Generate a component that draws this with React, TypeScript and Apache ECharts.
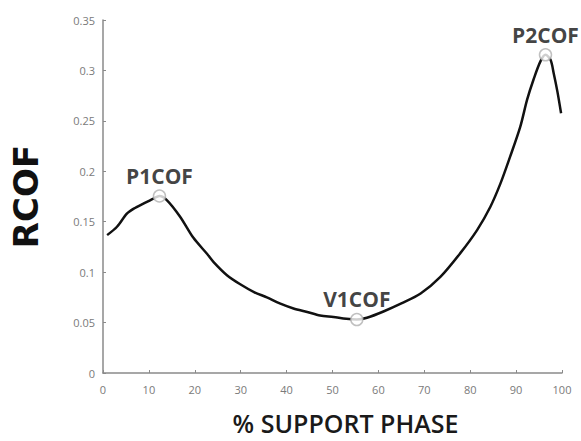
import React, { useEffect, useRef } from "react";
import * as echarts from "echarts";

const phaseX = [0.9, 3.05, 5.2, 6.7, 8.8, 11, 12.3, 13.9, 16.8, 19.7, 22.7, 24.1, 27, 29.9, 33, 35.7, 38.5, 41.5, 44.5, 47.3, 50.2, 53, 55.3, 57.5, 61.1, 65, 69.2, 73.5, 77.8, 81.5, 84.4, 86.6, 88.7, 90.9, 92.4, 93.8, 95.3, 96.4, 97.5, 98.2, 99, 99.8];
const rcofY = [0.1367, 0.145, 0.158, 0.163, 0.168, 0.173, 0.1755, 0.1715, 0.155, 0.134, 0.118, 0.110, 0.097, 0.088, 0.080, 0.075, 0.069, 0.064, 0.0605, 0.057, 0.0555, 0.0537, 0.053, 0.0548, 0.061, 0.069, 0.0788, 0.0953, 0.1186, 0.1417, 0.1649, 0.188, 0.2145, 0.244, 0.271, 0.291, 0.309, 0.3155, 0.3105, 0.297, 0.279, 0.2575];

const keyNames = ["P1COF", "V1COF", "P2COF"];
const keyX = [12.3, 55.3, 96.4];
const keyY = [0.1755, 0.053, 0.3155];

const xTicks = { min: 0, max: 100, interval: 10 };
const yTicks = { min: 0, max: 0.35, interval: 0.05 };

export default function App() {
  const ref = useRef<HTMLDivElement>(null);
  useEffect(() => {
    if (!ref.current) return;
    const chart = echarts.init(ref.current, null, { renderer: "svg" });
    const axisColor = "#8a8a8a";
    const labelColor = "#7a7a7a";
    chart.setOption({
      animation: false,
      backgroundColor: "#ffffff",
      grid: { left: 103, right: 19, top: 20, bottom: 68, outerBoundsMode: "none", containLabel: false },
      xAxis: {
        type: "value",
        min: xTicks.min,
        max: xTicks.max,
        interval: xTicks.interval,
        name: "% SUPPORT PHASE",
        nameLocation: "middle",
        nameGap: 37,
        nameTextStyle: {
          fontFamily: "Open Sans",
          fontSize: 25,
          lineHeight: 25,
          color: "#1a1a1a",
          fontWeight: 600,
          padding: [0, 0, 0, 26],
        },
        axisLine: { lineStyle: { color: axisColor, width: 1.5 } },
        axisTick: { inside: true, length: 3, lineStyle: { color: axisColor } },
        axisLabel: { color: labelColor, fontFamily: "Open Sans", fontSize: 11, margin: 11 },
        splitLine: { show: false },
      },
      yAxis: {
        type: "value",
        min: yTicks.min,
        max: yTicks.max,
        interval: yTicks.interval,
        name: "RCOF",
        nameLocation: "middle",
        nameGap: 60,
        nameTextStyle: { fontFamily: "DejaVu Sans", fontSize: 34, color: "#111", fontWeight: "bold" },
        axisLine: { show: true, lineStyle: { color: axisColor, width: 1.5 } },
        axisTick: { show: true, inside: true, length: 3, lineStyle: { color: axisColor } },
        axisLabel: { color: labelColor, fontFamily: "Open Sans", fontSize: 11, margin: 8 },
        splitLine: { show: false },
      },
      series: [
        {
          type: "line",
          data: phaseX.map((x, i) => [x, rcofY[i]]),
          smooth: 0.3,
          showSymbol: false,
          lineStyle: { color: "#111", width: 2.5 },
          z: 2,
        },
        {
          type: "scatter",
          data: keyX.map((x, i) => ({ value: [x, keyY[i]], name: keyNames[i] })),
          symbol: "circle",
          symbolSize: 12,
          itemStyle: { color: "#ffffff", borderColor: "#b0b0b0", borderWidth: 1.5 },
          label: {
            show: true,
            position: "top",
            distance: 3,
            formatter: (p: any) => p.name,
            fontFamily: "Open Sans",
            fontSize: 21,
            fontWeight: "bold",
            color: "#111111",
          },
          z: 3,
        },
      ],
    });
    return () => chart.dispose();
  }, []);
  return <div ref={ref} style={{ width: 581, height: 441, position: "absolute", left: 0, top: 0 }} />;
}
